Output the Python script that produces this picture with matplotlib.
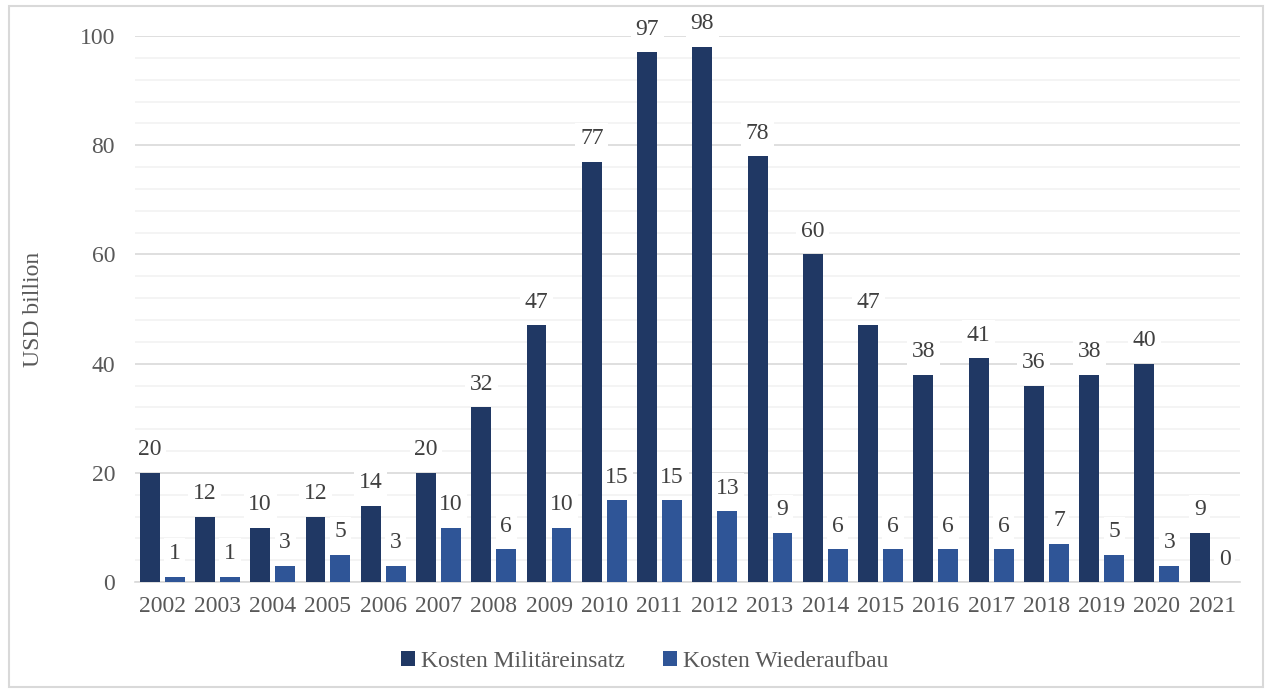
import numpy as np
import matplotlib.pyplot as plt
from matplotlib.patches import Rectangle

# Kosten des Afghanistan-Einsatzes pro Jahr (USD billion)
years = [2002, 2003, 2004, 2005, 2006, 2007, 2008, 2009, 2010, 2011,
         2012, 2013, 2014, 2015, 2016, 2017, 2018, 2019, 2020, 2021]
militaer = [20, 12, 10, 12, 14, 20, 32, 47, 77, 97,
            98, 78, 60, 47, 38, 41, 36, 38, 40, 9]
wiederaufbau = [1, 1, 3, 5, 3, 10, 6, 10, 15, 15,
                13, 9, 6, 6, 6, 6, 7, 5, 3, 0]

dunkel = '#203864'
hell = '#2F5597'
textfarbe = '#595959'

plt.rcParams['font.family'] = ['Liberation Serif', 'DejaVu Serif']
plt.rcParams['font.size'] = 17

fig = plt.figure(figsize=(12.69, 6.93), dpi=100)
ax = fig.add_axes([0.106, 0.160, 0.871, 0.788])

x = np.arange(len(years))
breite = 0.36
versatz = 0.226

b1 = ax.bar(x - versatz, militaer, breite, color=dunkel, label='Kosten Militäreinsatz', zorder=3)
b2 = ax.bar(x + versatz, wiederaufbau, breite, color=hell, label='Kosten Wiederaufbau', zorder=3)

# Werte über den Balken, weißer Hintergrund nur über dem Gitter, unter den Balken
for balken, werte in ((b1, militaer), (b2, wiederaufbau)):
    for r, w in zip(balken, werte):
        ax.annotate(str(w), (r.get_x() + r.get_width() / 2, w),
                    xytext=(0, 9), textcoords='offset points',
                    ha='center', va='bottom', color='#404040', fontsize=17,
                    bbox=dict(boxstyle='square,pad=0.2', fc='white', ec='none'),
                    zorder=2, annotation_clip=False)

ax.set_xlim(-0.5, len(years) - 0.5)
ax.set_ylim(0, 100)
ax.set_yticks(range(0, 101, 20))
ax.set_yticks(range(0, 101, 4), minor=True)
ax.set_xticks(x)
ax.set_xticklabels(years)

ax.grid(axis='y', which='major', color='#d9d9d9', linewidth=1.2, zorder=0)
ax.grid(axis='y', which='minor', color='#f2f2f2', linewidth=1.2, zorder=0)
ax.tick_params(which='both', length=0, colors=textfarbe, labelsize=17)
ax.tick_params(axis='x', pad=10)
ax.tick_params(axis='y', pad=14)
for s in ['top', 'right', 'left']:
    ax.spines[s].set_visible(False)
ax.spines['bottom'].set_color('#d9d9d9')
ax.spines['bottom'].set_linewidth(1.2)

ax.set_ylabel('USD billion', color=textfarbe, fontsize=17, labelpad=26)

leg = fig.legend(loc='center', bbox_to_anchor=(0.508, 0.045), ncol=2, frameon=False,
                 handlelength=0.6, handleheight=0.6, handletextpad=0.25,
                 columnspacing=1.6, fontsize=17)
for t in leg.get_texts():
    t.set_color(textfarbe)

# heller Rahmen um die ganze Grafik
fig.patches.append(Rectangle((0.007, 0.008), 0.988, 0.983, transform=fig.transFigure,
                             fill=False, edgecolor='#d9d9d9', linewidth=1.5))

fig.savefig('out.png', dpi=100)
